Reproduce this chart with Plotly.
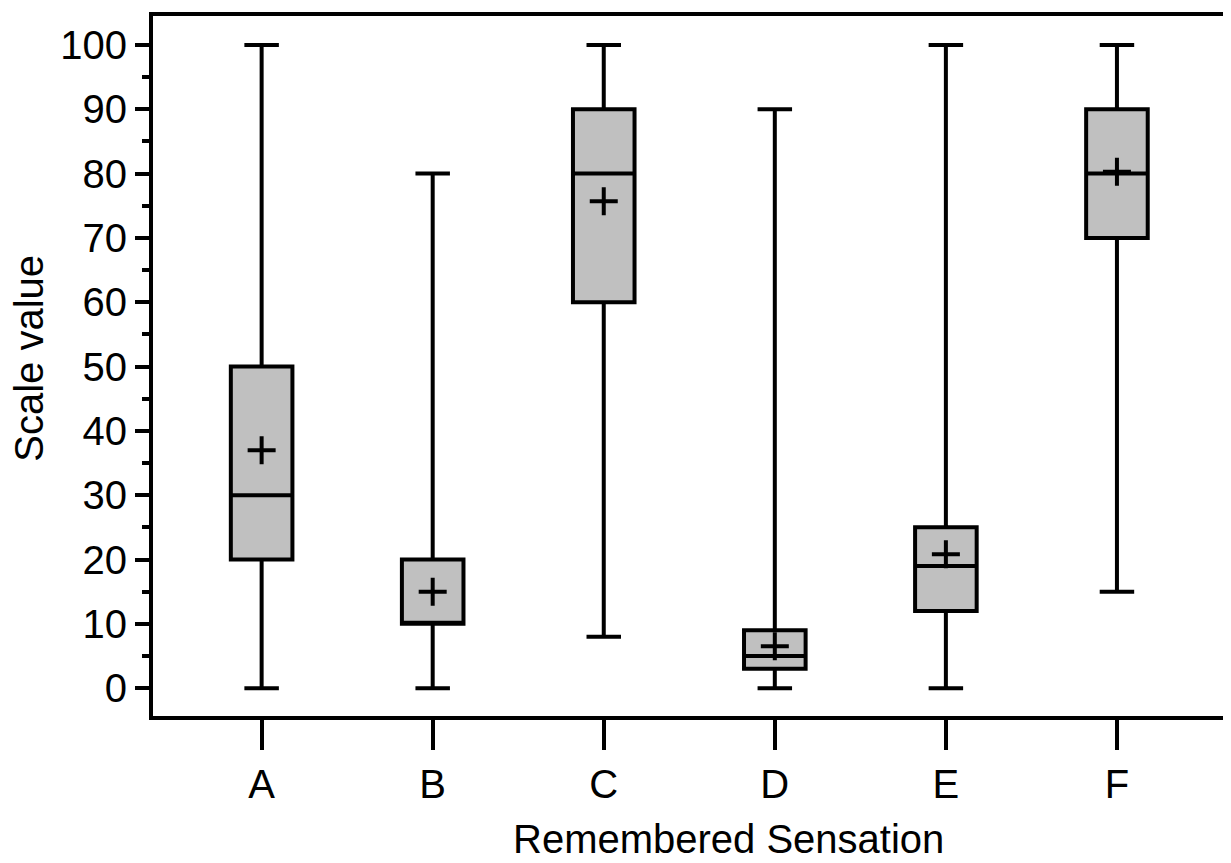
import plotly.graph_objects as go

categories = ["A", "B", "C", "D", "E", "F"]
lower = [0, 0, 8, 0, 0, 15]
q1 = [20, 10, 60, 3, 12, 70]
median = [30, 10, 80, 5, 19, 80]
q3 = [50, 20, 90, 9, 25, 90]
upper = [100, 80, 100, 90, 100, 100]
means = [37, 15, 75.7, 6.5, 20.8, 80.3]

xpos = list(range(len(categories)))
FONT = "Liberation Sans, Arial, sans-serif"

fig = go.Figure()
fig.add_trace(go.Box(
    x=xpos, q1=q1, median=median, q3=q3,
    lowerfence=lower, upperfence=upper,
    fillcolor="#c0c0c0", line=dict(color="black", width=4),
    width=0.36, whiskerwidth=0.56, boxpoints=False, showlegend=False,
    hoverinfo="skip",
))
fig.add_trace(go.Scatter(
    x=xpos, y=means, mode="markers",
    marker=dict(symbol="cross-thin", size=20, line=dict(color="black", width=4), color="black"),
    showlegend=False, hoverinfo="skip",
))

fig.update_layout(
    width=1223, height=855,
    margin=dict(l=145, r=4, t=4, b=147),
    plot_bgcolor="white", paper_bgcolor="white",
    font=dict(family=FONT, color="black", size=40),
    annotations=[
        dict(text="Remembered Sensation", xref="paper", yref="paper",
             x=0.538, y=-0.175, xanchor="center", yanchor="middle",
             showarrow=False, borderpad=0, font=dict(size=40, family=FONT)),
        dict(text="Scale value", xref="paper", yref="paper",
             x=-0.1155, y=0.511, xanchor="center", yanchor="middle", textangle=-90,
             showarrow=False, borderpad=0, font=dict(size=40, family=FONT)),
    ],
)
fig.update_xaxes(
    range=[-0.635, 5.62], tickvals=xpos, ticktext=categories,
    showline=True, mirror=True, linecolor="black", linewidth=4,
    ticks="outside", ticklen=30, tickwidth=4, tickcolor="black",
    showgrid=False, zeroline=False,
    tickfont=dict(size=40, family=FONT),
)
fig.update_yaxes(
    range=[-4.33, 104.5], tickvals=list(range(0, 101, 10)),
    showline=True, mirror=True, linecolor="black", linewidth=4,
    ticks="outside", ticklen=14, tickwidth=4, tickcolor="black",
    minor=dict(tickvals=list(range(5, 100, 10)), ticks="outside", ticklen=7, tickwidth=4, tickcolor="black", showgrid=False),
    showgrid=False, zeroline=False,
    tickfont=dict(size=40, family=FONT),
)

fig.write_html("out.html")
